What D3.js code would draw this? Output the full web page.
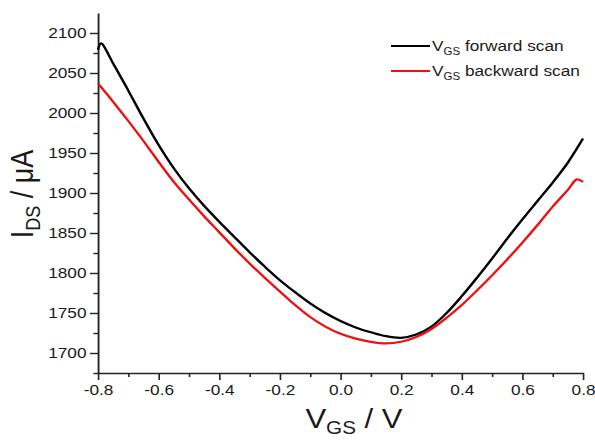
<!DOCTYPE html>
<html>
<head>
    <meta charset="utf-8">
    <title>IDS vs VGS</title>
    <style>
        body { margin: 0; background: #ffffff; }
        #chart { display: block; }
        text { font-family: "Liberation Sans", Arial, sans-serif; fill: #1a1a1a; }
    </style>
    <script src="https://d3js.org/d3.v7.min.js"></script>
</head>
<body>
    <svg id="chart"></svg>
    <script>
        // gate voltage (V)
        var vgs = [-0.8, -0.79, -0.75, -0.7, -0.65, -0.6, -0.55, -0.5, -0.45, -0.4, -0.35, -0.3, -0.25, -0.2, -0.15, -0.1, -0.05,
                   0, 0.05, 0.1, 0.15, 0.2, 0.25, 0.3, 0.35, 0.4, 0.45, 0.5, 0.55, 0.6, 0.65, 0.7, 0.75, 0.8];
        // drain current (uA), forward scan
        var forwardScan = [2079, 2087, 2062, 2028, 1993, 1960, 1931, 1906, 1884, 1864, 1845, 1826, 1808, 1791, 1776, 1762, 1750,
                           1740, 1732, 1726, 1721, 1719, 1723, 1733, 1750, 1771, 1794, 1818, 1843, 1867, 1890, 1913, 1938, 1968];
        // backward scan
        var vgsBack = [-0.8, -0.75, -0.7, -0.65, -0.6, -0.55, -0.5, -0.45, -0.4, -0.35, -0.3, -0.25, -0.2, -0.15, -0.1, -0.05,
                       0, 0.05, 0.1, 0.15, 0.2, 0.25, 0.3, 0.35, 0.4, 0.45, 0.5, 0.55, 0.6, 0.65, 0.7, 0.75, 0.78, 0.8];
        var backwardScan = [2037, 2014, 1990, 1965, 1939, 1914, 1892, 1871, 1851, 1831, 1812, 1794, 1777, 1760, 1745, 1733,
                            1724, 1718, 1714, 1712, 1714, 1720, 1730, 1744, 1760, 1778, 1797, 1817, 1838, 1860, 1883, 1904, 1917, 1914];

        var xTicks = [-0.8, -0.6, -0.4, -0.2, 0.0, 0.2, 0.4, 0.6, 0.8];
        var yTicks = [1700, 1750, 1800, 1850, 1900, 1950, 2000, 2050, 2100];
        var seriesNames = ["forward scan", "backward scan"];
        var seriesColors = ["#000000", "#ee1111"];

        // the original picture is stretched sideways, so draw narrow and stretch
        var sx = 1.15;
        var W = 595, H = 440;
        var svg = d3.select("#chart")
            .attr("width", W).attr("height", H)
            .attr("viewBox", "0 0 " + (W / sx) + " " + H)
            .attr("preserveAspectRatio", "none");

        var x = d3.scaleLinear().domain([-0.8, 0.8]).range([98 / sx, 583 / sx]);
        var y = d3.scaleLinear().domain([1675, 2125]).range([373, 13]);

        var fmtX = d => d3.format(".1f")(d).replace("\u2212", "-");

        // axes
        var xAxis = svg.append("g").attr("transform", "translate(0,373)");
        xAxis.append("g")
            .call(d3.axisBottom(x).tickValues(d3.range(-0.7, 0.8, 0.2)).tickSize(4).tickFormat(""))
            .call(g => g.select(".domain").remove());
        xAxis.append("g")
            .call(d3.axisBottom(x).tickValues(xTicks).tickSize(7).tickSizeOuter(0).tickFormat(fmtX));

        var yAxis = svg.append("g").attr("transform", "translate(" + (98 / sx) + ",0)");
        yAxis.append("g")
            .call(d3.axisLeft(y).tickValues(d3.range(1675, 2125, 50)).tickSize(4).tickFormat(""))
            .call(g => g.select(".domain").remove());
        yAxis.append("g")
            .call(d3.axisLeft(y).tickValues(yTicks).tickSize(7).tickSizeOuter(0).tickFormat(d3.format("d")));

        svg.selectAll(".domain").attr("stroke", "#222").attr("stroke-width", 1.6);
        svg.selectAll(".tick line").attr("stroke", "#222").attr("stroke-width", 1.4);
        svg.selectAll(".tick text").style("font-size", "15px").attr("fill", "#1a1a1a");
        xAxis.selectAll(".tick text").attr("y", 11);
        yAxis.selectAll(".tick text").attr("x", -10);

        // curves
        var line = d3.line().curve(d3.curveCatmullRom.alpha(0.5));
        svg.append("path")
            .attr("d", line(vgs.map((v, i) => [x(v), y(forwardScan[i])])))
            .attr("fill", "none").attr("stroke", seriesColors[0]).attr("stroke-width", 2.2);
        svg.append("path")
            .attr("d", line(vgsBack.map((v, i) => [x(v), y(backwardScan[i])])))
            .attr("fill", "none").attr("stroke", seriesColors[1]).attr("stroke-width", 2.2);

        // legend
        seriesNames.forEach(function(name, i) {
            var ly = 46 + i * 25;
            svg.append("line")
                .attr("x1", 391 / sx).attr("x2", 430 / sx)
                .attr("y1", ly).attr("y2", ly)
                .attr("stroke", seriesColors[i]).attr("stroke-width", 2.2);
            var t = svg.append("text").attr("x", 432 / sx).attr("y", ly + 5).style("font-size", "15px");
            t.append("tspan").text("V");
            t.append("tspan").attr("dy", 4).style("font-size", "10px").text("GS");
            t.append("tspan").attr("dy", -4).text(" " + name);
        });

        // axis titles
        var xt = svg.append("text")
            .attr("x", 354 / sx).attr("y", 428)
            .attr("text-anchor", "middle").style("font-size", "27px");
        xt.append("tspan").text("V");
        xt.append("tspan").attr("dy", 6).style("font-size", "18px").text("GS");
        xt.append("tspan").attr("dy", -6).text(" / V");

        var yt = svg.append("text")
            .attr("transform", "translate(" + (33 / sx) + ",194) rotate(-90)")
            .attr("text-anchor", "middle").style("font-size", "27px");
        yt.append("tspan").text("I");
        yt.append("tspan").attr("dy", 6).style("font-size", "18px").text("DS");
        yt.append("tspan").attr("dy", -6).text(" / \u03bcA");
    </script>
</body>
</html>
